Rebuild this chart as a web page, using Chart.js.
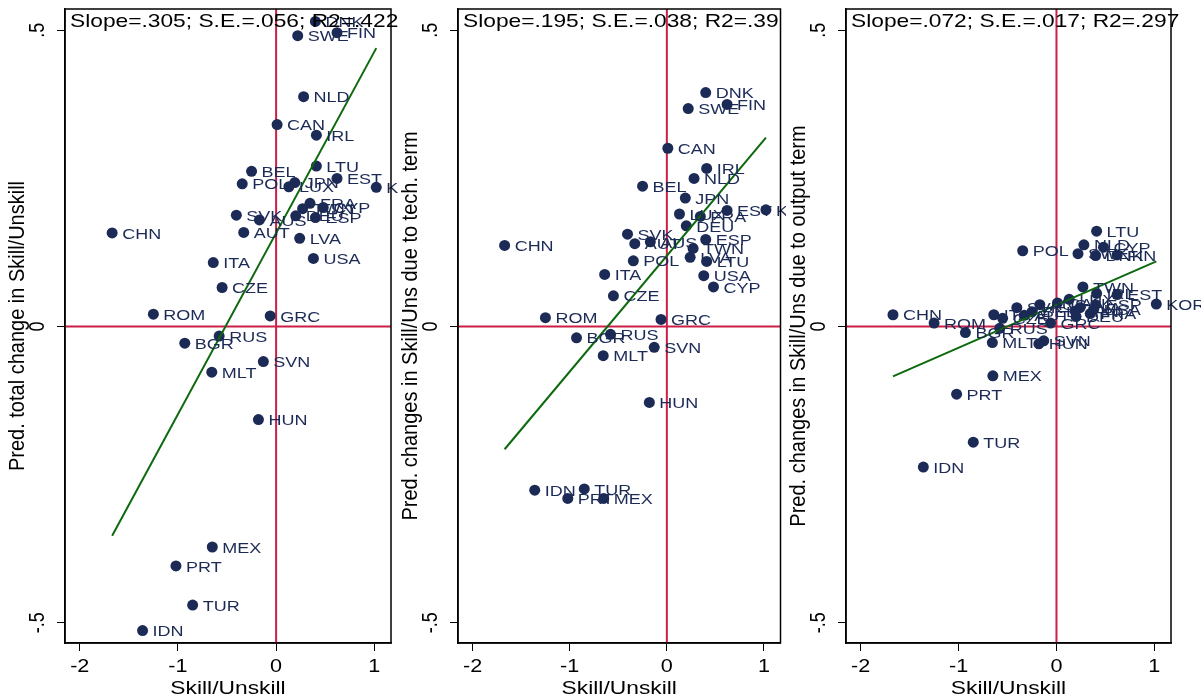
<!DOCTYPE html>
<html>
<head>
<meta charset="utf-8">
<script src="https://cdn.jsdelivr.net/npm/chart.js@4.4.1/dist/chart.umd.min.js"></script>
<style>
  body { margin: 0; background: #fff; }
  #wrap { position: relative; width: 1201px; height: 698px; overflow: hidden; background: #fff; }
  canvas { position: absolute; top: 0; }
</style>
</head>
<body>
<div id="wrap">
  <canvas id="total" width="398" height="698" style="left:0px"></canvas>
  <canvas id="tech" width="388" height="698" style="left:398px"></canvas>
  <canvas id="output" width="415" height="698" style="left:786px"></canvas>
</div>
<script>
// dados
const countries = ['DNK','FIN','SWE','NLD','CAN','IRL','LTU','BEL','EST','POL','JPN','LUX','KOR','FRA','CYP','TWN','DEU','SVK','AUS','ESP','AUT','CHN','LVA','USA','ITA','CZE','ROM','GRC','RUS','BGR','SVN','MLT','HUN','MEX','PRT','TUR','IDN'];
const skillUnskill = [0.40,0.62,0.22,0.28,0.01,0.41,0.41,-0.25,0.62,-0.345,0.19,0.13,1.02,0.345,0.48,0.27,0.20,-0.405,-0.17,0.40,-0.33,-1.67,0.24,0.38,-0.64,-0.55,-1.25,-0.06,-0.58,-0.93,-0.13,-0.655,-0.18,-0.65,-1.02,-0.85,-1.36];
const totalChange = [0.515,0.496,0.491,0.388,0.341,0.323,0.271,0.262,0.250,0.241,0.243,0.236,0.235,0.208,0.201,0.199,0.187,0.188,0.180,0.184,0.159,0.158,0.149,0.115,0.108,0.066,0.021,0.018,-0.016,-0.028,-0.059,-0.077,-0.157,-0.372,-0.404,-0.470,-0.513];
const techChange = [0.395,0.375,0.368,0.250,0.301,0.267,0.110,0.237,0.196,0.111,0.217,0.190,0.197,0.186,0.067,0.132,0.170,0.156,0.143,0.147,0.140,0.137,0.117,0.086,0.088,0.052,0.015,0.012,-0.013,-0.019,-0.035,-0.049,-0.128,-0.290,-0.290,-0.274,-0.276];
const outputChange = [0.120,0.121,0.123,0.138,0.040,0.056,0.161,0.025,0.054,0.128,0.026,0.046,0.038,0.022,0.134,0.067,0.017,0.032,0.037,0.037,0.019,0.020,0.032,0.029,0.020,0.014,0.006,0.006,-0.003,-0.010,-0.024,-0.027,-0.029,-0.083,-0.114,-0.195,-0.237];

// retas de regressao (extremos)
const fitX = [-1.67, 1.02];
const fitTotal = [-0.353, 0.470];
const fitTech = [-0.207, 0.319];
const fitOutput = [-0.084, 0.110];

const xTicks = [-2, -1, 0, 1];
const xTickLabels = ['-2', '-1', '0', '1'];
const yTicks = [-0.5, 0, 0.5];
const yTickLabels = ['-.5', '0', '.5'];

const annotTotal = 'Slope=.305; S.E.=.056; R2=.422';
const annotTech = 'Slope=.195; S.E.=.038; R2=.39';
const annotOutput = 'Slope=.072; S.E.=.017; R2=.297';

const xTitle = 'Skill/Unskill';
const yTitleTotal = 'Pred. total change in Skill/Unskill';
const yTitleTech = 'Pred. changes in Skill/Uns due to tech. term';
const yTitleOutput = 'Pred. changes in Skill/Uns due to output term';

const FONT = "'Liberation Sans', Arial, sans-serif";
const NAVY = '#1c2a56';
const RED = '#cc1f47';
const GREEN = '#0d690d';

// o texto do original e esticado na horizontal
function texto(ctx, txt, x, y, align, base, esticar, rot) {
  ctx.save();
  ctx.translate(x, y);
  if (rot) {
    ctx.rotate(-Math.PI / 2);
    ctx.scale(1, esticar);
  } else {
    ctx.scale(esticar, 1);
  }
  ctx.textAlign = align;
  ctx.textBaseline = base;
  ctx.fillText(txt, 0, 0);
  ctx.restore();
}

const enfeites = {
  id: 'enfeites',
  beforeDatasetsDraw(chart) {
    const { ctx, chartArea: a, scales } = chart;
    const x0 = scales.x.getPixelForValue(0);
    const y0 = scales.y.getPixelForValue(0);
    ctx.save();
    ctx.strokeStyle = RED;
    ctx.lineWidth = 2;
    ctx.beginPath();
    ctx.moveTo(x0, a.top); ctx.lineTo(x0, a.bottom);
    ctx.moveTo(a.left, y0); ctx.lineTo(a.right, y0);
    ctx.stroke();
    ctx.restore();
  },
  afterDatasetsDraw(chart, args, opts) {
    const { ctx, scales } = chart;
    ctx.save();
    ctx.fillStyle = NAVY;
    ctx.font = '15px ' + FONT;
    for (let i = 0; i < countries.length; i++) {
      const px = scales.x.getPixelForValue(skillUnskill[i]);
      const py = scales.y.getPixelForValue(opts.valores[i]);
      texto(ctx, countries[i], px + 10, py + 1.5, 'left', 'middle', 1.2);
    }
    ctx.restore();
  },
  afterDraw(chart, args, opts) {
    const { ctx, chartArea: a, scales } = chart;
    ctx.save();
    ctx.strokeStyle = '#000';
    ctx.lineWidth = 1.5;
    ctx.strokeRect(a.left, a.top, a.right - a.left, a.bottom - a.top);

    ctx.fillStyle = '#000';
    ctx.font = '18px ' + FONT;
    for (let i = 0; i < xTicks.length; i++) {
      texto(ctx, xTickLabels[i], scales.x.getPixelForValue(xTicks[i]), a.bottom + 29, 'center', 'alphabetic', 1.2);
    }
    for (let i = 0; i < yTicks.length; i++) {
      texto(ctx, yTickLabels[i], a.left - 27, scales.y.getPixelForValue(yTicks[i]), 'center', 'middle', 1.2, true);
    }
    ctx.font = '19px ' + FONT;
    texto(ctx, xTitle, (a.left + a.right) / 2, a.bottom + 51, 'center', 'alphabetic', 1.2);
    ctx.font = '20px ' + FONT;
    texto(ctx, opts.tituloY, a.left - 47, (a.top + a.bottom) / 2, 'center', 'middle', 1.1, true);

    ctx.font = '18.5px ' + FONT;
    texto(ctx, opts.anotacao, a.left + 5, a.top + 13, 'left', 'middle', 1.23);
    ctx.restore();
  }
};

function criarPainel(id, valores, fitY, anotacao, tituloY, larguraY, padDir) {
  const pontos = skillUnskill.map((x, i) => ({ x: x, y: valores[i] }));
  const reta = fitX.map((x, i) => ({ x: x, y: fitY[i] }));
  return new Chart(document.getElementById(id), {
    type: 'scatter',
    data: {
      datasets: [
        {
          type: 'line',
          data: reta,
          borderColor: GREEN,
          borderWidth: 2,
          pointRadius: 0,
          fill: false
        },
        {
          data: pontos,
          backgroundColor: NAVY,
          borderWidth: 0,
          pointRadius: 5.5,
          pointHoverRadius: 5.5
        }
      ]
    },
    options: {
      responsive: false,
      animation: false,
      layout: { padding: { left: 0, right: padDir, top: 9, bottom: 0 } },
      plugins: {
        legend: { display: false },
        tooltip: { enabled: false },
        enfeites: { valores: valores, anotacao: anotacao, tituloY: tituloY }
      },
      scales: {
        x: {
          type: 'linear',
          min: -2.15,
          max: 1.17,
          afterBuildTicks: (s) => { s.ticks = xTicks.map(v => ({ value: v })); },
          afterFit: (s) => { s.height = 55; },
          ticks: { display: false },
          grid: { drawOnChartArea: false, drawTicks: true, tickLength: 8, color: '#000', lineWidth: 1 },
          border: { display: true, color: '#000', width: 1.5 }
        },
        y: {
          type: 'linear',
          min: -0.534,
          max: 0.536,
          afterBuildTicks: (s) => { s.ticks = yTicks.map(v => ({ value: v })); },
          afterFit: (s) => { s.width = larguraY; },
          ticks: { display: false },
          grid: { drawOnChartArea: false, drawTicks: true, tickLength: 8, color: '#000', lineWidth: 1 },
          border: { display: true, color: '#000', width: 1.5 }
        }
      }
    },
    plugins: [enfeites]
  });
}

criarPainel('total', totalChange, fitTotal, annotTotal, yTitleTotal, 65, 7);
criarPainel('tech', techChange, fitTech, annotTech, yTitleTech, 60, 5);
criarPainel('output', outputChange, fitOutput, annotOutput, yTitleOutput, 60, 30);
</script>
</body>
</html>
